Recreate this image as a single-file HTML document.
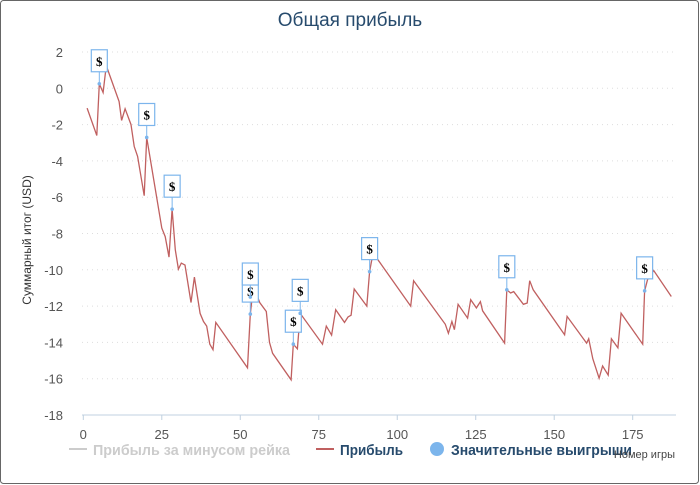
<!DOCTYPE html>
<html><head><meta charset="utf-8"><style>
html,body{margin:0;padding:0;background:#fff;}
body{width:700px;height:485px;overflow:hidden;}
svg{display:block;font-family:"Liberation Sans Narrow","Liberation Sans","DejaVu Sans",sans-serif;}
</style></head><body>
<svg id="chart" width="700" height="485">
<rect x="0.5" y="0.5" width="698" height="483" rx="3" fill="#fff" stroke="#666"/>
<text x="350" y="26" text-anchor="middle" font-size="19" fill="#274b6d">Общая прибыль</text>
<text transform="translate(31,240) rotate(-90)" text-anchor="middle" font-size="12" fill="#333" font-family="Liberation Sans, sans-serif">Суммарный итог (USD)</text>
<g id="grid"></g><g id="yticks"></g><g id="xticks"></g>
<line x1="82" y1="415" x2="676" y2="415" stroke="#c0d0e0"/>
<g id="series"></g><g id="markers"></g>
<g>
<g>
<line x1="69" y1="449" x2="87" y2="449" stroke="#ccc" stroke-width="2"/>
<text x="93" y="455" font-size="15" font-weight="bold" fill="#ccc" textLength="197" lengthAdjust="spacingAndGlyphs">Прибыль за минусом рейка</text></g>
<g>
<line x1="316" y1="449" x2="334" y2="449" stroke="#c06060" stroke-width="2"/>
<text x="340" y="455" font-size="15" font-weight="bold" fill="#274b6d" textLength="63" lengthAdjust="spacingAndGlyphs">Прибыль</text></g>
<g>
<circle cx="437" cy="449" r="7" fill="#7cb5ec"/>
<text x="451" y="455" font-size="15" font-weight="bold" fill="#274b6d" textLength="181" lengthAdjust="spacingAndGlyphs">Значительные выигрыши</text></g>
</g>
<text x="675" y="458" text-anchor="end" font-size="11" fill="#444" font-family="Liberation Sans, sans-serif">Номер игры</text>
</svg>
<script>
const yTicks=[2,0,-2,-4,-6,-8,-10,-12,-14,-16,-18];
const xTicks=[0,25,50,75,100,125,150,175];
const games=[1.2,4.3,5.1,6.3,7.1,7.7,11.4,12.2,13.3,15.2,16.2,17.3,19.4,20.2,25,26.1,27.3,28.3,29.3,30.3,31.2,32.4,34.3,35.4,37.2,38.3,39.3,40.3,41.3,42.2,52.3,53.2,54.2,56.2,58.3,59.3,60.3,66.2,66.9,68.2,69.1,76.2,77.4,79.1,80.4,83.2,84.3,85.3,86.3,90.3,91.2,91.9,93.5,104.3,105.2,115.3,116.3,117.4,118.2,119.4,122.4,123.4,125.2,126.5,127.2,134.2,134.9,136.1,137.1,140.2,141.4,142.2,143.3,153.3,154.1,160.3,161,162.3,164.3,165.4,167.2,168.2,170.3,171.3,178.2,178.8,179.7,181.7,187.3];
const profit=[-1.09,-2.6,0.25,-0.23,0.93,1.06,-0.73,-1.77,-1.13,-2.0,-3.2,-3.75,-5.92,-2.71,-7.7,-8.17,-9.3,-6.66,-8.9,-9.96,-9.63,-9.74,-11.8,-10.4,-12.4,-12.85,-13.1,-14.1,-14.4,-12.9,-15.4,-12.44,-10.9,-11.8,-12.3,-14.0,-14.6,-16.06,-14.1,-14.35,-12.4,-14.1,-13.1,-13.6,-12.2,-12.9,-12.6,-12.5,-11.06,-12.0,-10.1,-9.45,-9.36,-12.0,-10.6,-13.0,-13.5,-12.85,-13.3,-11.9,-12.66,-11.65,-12.1,-11.75,-12.26,-14.04,-11.1,-11.28,-11.2,-11.9,-11.83,-10.6,-11.1,-13.58,-12.57,-14.04,-13.8,-14.9,-15.97,-15.3,-15.8,-13.8,-14.3,-12.39,-14.1,-11.16,-10.55,-10.04,-11.47];
const winGames=[5.1,20.2,28.3,53.2,53.2,66.9,69.1,91.2,134.9,178.8];
const winValues=[0.25,-2.71,-6.66,-12.44,-11.5,-14.1,-12.4,-10.1,-11.1,-11.16];
const NS='http://www.w3.org/2000/svg';
const X=v=>83.3+v*((632.7-83.3)/175);
const Y=v=>415-(v+18)*(363/20);
function mk(tag,attrs,parent){const e=document.createElementNS(NS,tag);for(const k in attrs)e.setAttribute(k,attrs[k]);parent.appendChild(e);return e;}
const grid=document.getElementById('grid'),yt=document.getElementById('yticks'),xt=document.getElementById('xticks');
yTicks.forEach(t=>{
 if(t!==-18){const l=mk('line',{x1:82,x2:676,y1:Y(t),y2:Y(t),stroke:'#ddd','stroke-dasharray':'1,4'},grid);
 
 }
 const tx=mk('text',{x:63,y:Y(t)+5,'text-anchor':'end','font-size':13,fill:'#555'},yt);
 
 
 tx.textContent=t;
});
xTicks.forEach(t=>{
 const l=mk('line',{x1:X(t),x2:X(t),y1:415,y2:420,stroke:'#c0d0e0'},xt);
 
 
 const tx=mk('text',{x:X(t),y:439,'text-anchor':'middle','font-size':13,fill:'#555'},xt);
 
 
 tx.textContent=t;
});
const pts=games.map((g,i)=>X(g).toFixed(1)+','+Y(profit[i]).toFixed(1)).join(' ');
const pl=mk('polyline',{points:pts,fill:'none',stroke:'#c06060','stroke-width':1.3},document.getElementById('series'));


const mg=document.getElementById('markers');
winGames.forEach((g,i)=>{
 const px=X(g),py=Y(winValues[i]);
 const grp=mk('g',{},mg);
 
 
 mk('line',{x1:px,y1:py,x2:px,y2:py-12,stroke:'#7cb5ec','stroke-width':1},grp);
 mk('circle',{cx:px,cy:py,r:1.8,fill:'#7cb5ec'},grp);
 mk('rect',{x:px-8,y:py-34,width:16,height:22,fill:'#fff',stroke:'#7cb5ec','stroke-width':1.2},grp);
 const t=mk('text',{x:px,y:py-18,'text-anchor':'middle','font-size':13,'font-weight':'bold',fill:'#000','font-family':'Liberation Serif, serif'},grp);
 t.textContent='$';
});
</script>
</body></html>
